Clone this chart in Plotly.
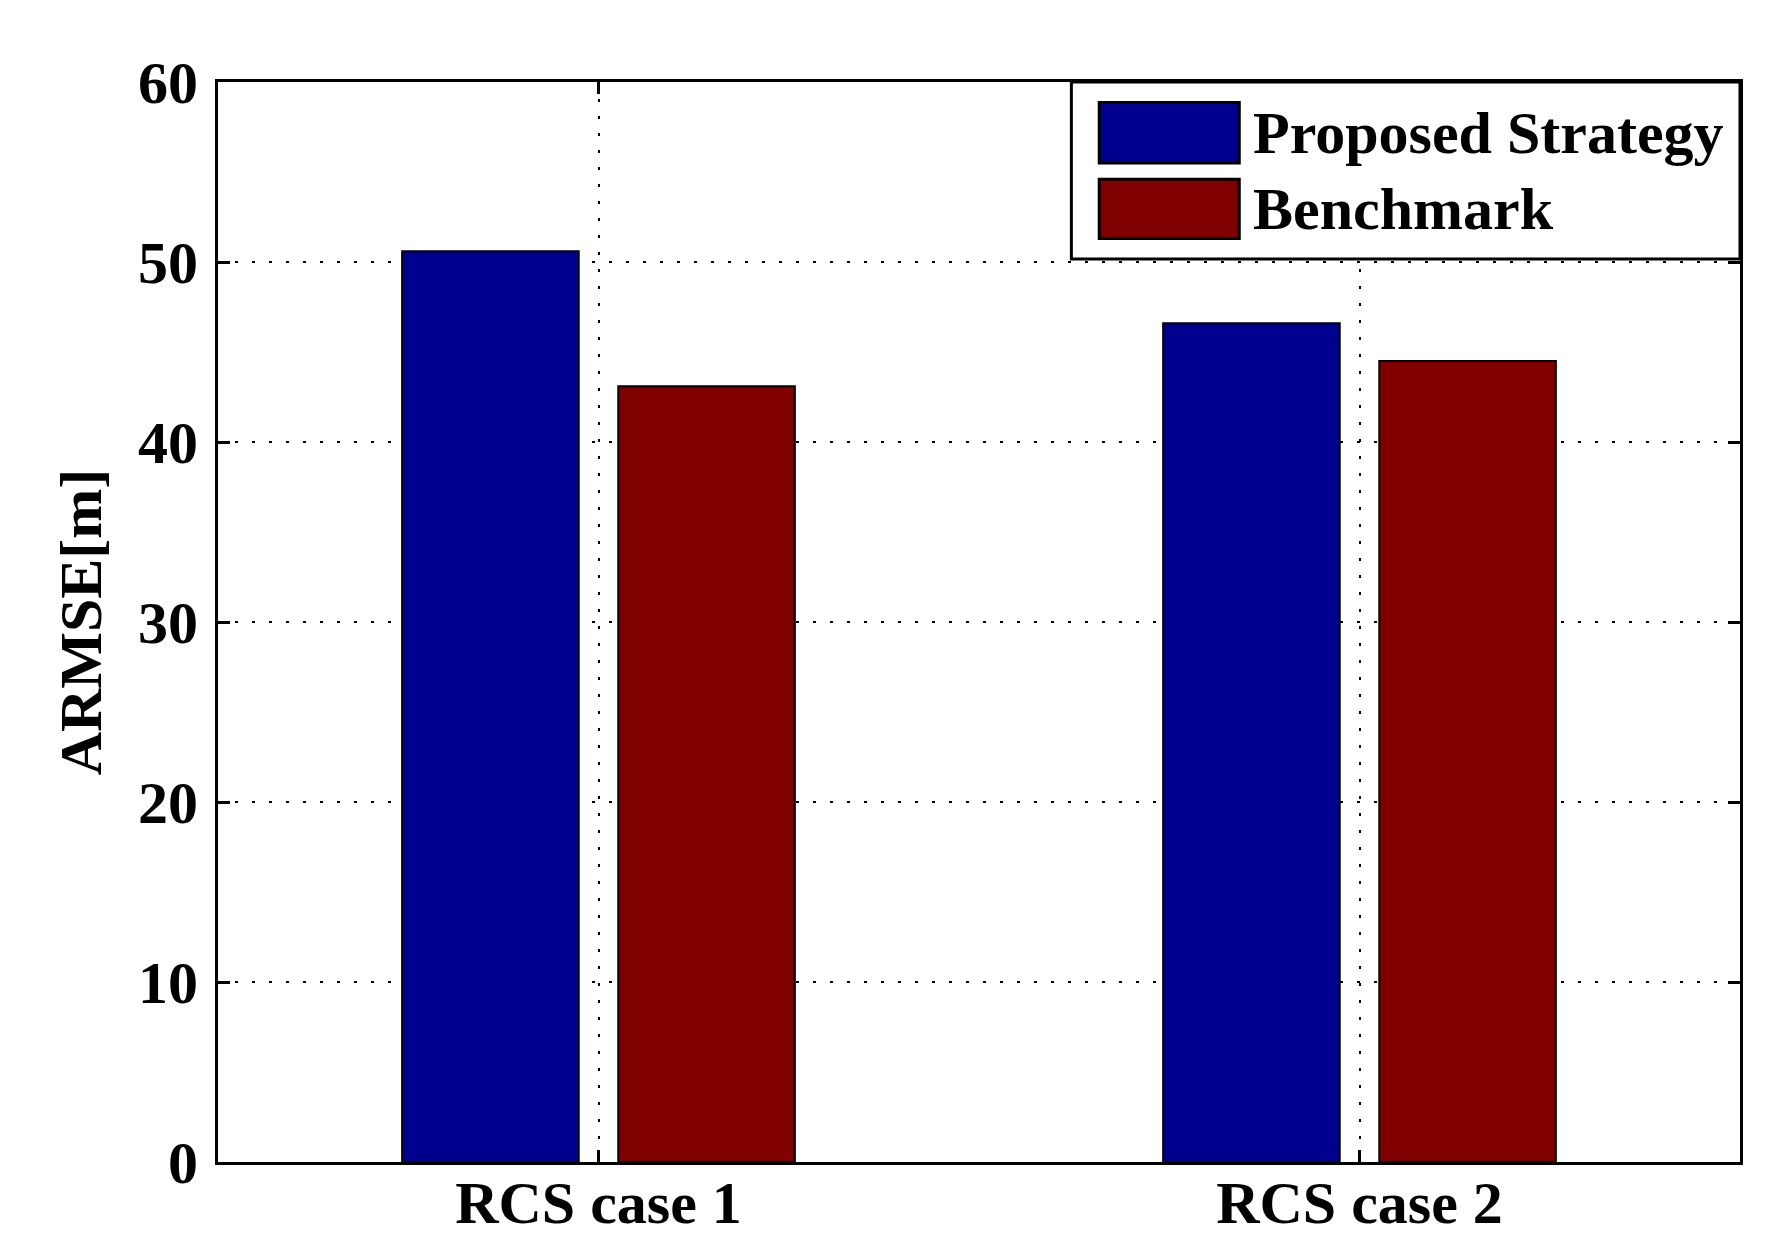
import plotly.graph_objects as go

categories = ["RCS case 1", "RCS case 2"]
x_pos = [1, 2]
series_names = ["Proposed Strategy", "Benchmark"]
proposed = [50.6, 46.6]
benchmark = [43.1, 44.5]
y_ticks = [0, 10, 20, 30, 40, 50, 60]
colors = ["#00008F", "#800000"]

FONT = "Liberation Serif"
FS = 60

fig = go.Figure()
for name, vals, col in zip(series_names, [proposed, benchmark], colors):
    fig.add_trace(go.Bar(x=x_pos, y=vals, name=name, marker=dict(color=col, line=dict(color="black", width=2)),
                         showlegend=False))

fig.update_layout(
    width=1784, height=1259,
    margin=dict(l=210, r=52, t=74, b=105),
    paper_bgcolor="white", plot_bgcolor="white",
    barmode="group", bargap=0.432, bargroupgap=0.183,
    font=dict(family=FONT, size=FS, color="black"),
)
fig.update_xaxes(range=[0.5, 2.5], tickvals=x_pos, ticktext=["<b>%s</b>" % c for c in categories],
                 showline=True, linecolor="black", linewidth=3, mirror="ticks",
                 ticks="inside", ticklen=12, tickwidth=3, tickcolor="black",
                 showgrid=True, gridcolor="black", gridwidth=2, griddash="3px,14px",
                 zeroline=False, ticklabelstandoff=-14, automargin=False)
fig.update_yaxes(range=[0, 60], tickvals=y_ticks, ticktext=["<b>%d</b>" % v for v in y_ticks],
                 showline=True, linecolor="black", linewidth=3, mirror="ticks",
                 ticks="inside", ticklen=12, tickwidth=3, tickcolor="black",
                 showgrid=True, gridcolor="black", gridwidth=2, griddash="3px,14px",
                 zeroline=False, ticklabelstandoff=5, automargin=False,
                 title=dict(text="<b>ARMSE[m]</b>", standoff=18, font=dict(family=FONT, size=FS)))

# legend box
fig.add_shape(type="rect", xref="paper", yref="paper", x0=0.5607, x1=1.0, y0=0.836, y1=1.0,
              fillcolor="white", line=dict(color="black", width=3), layer="above")
sw = [(0.925, 0.981), (0.855, 0.910)]
for (y0, y1), col, name in zip(sw, colors, series_names):
    fig.add_shape(type="rect", xref="paper", yref="paper", x0=0.579, x1=0.671, y0=y0, y1=y1,
                  fillcolor=col, line=dict(color="black", width=3), layer="above")
    fig.add_annotation(xref="paper", yref="paper", x=0.679, y=(y0 + y1) / 2, text="<b>%s</b>" % name,
                       showarrow=False, xanchor="left", yanchor="middle",
                       font=dict(family=FONT, size=FS, color="black"))

fig.write_html("out.html")
